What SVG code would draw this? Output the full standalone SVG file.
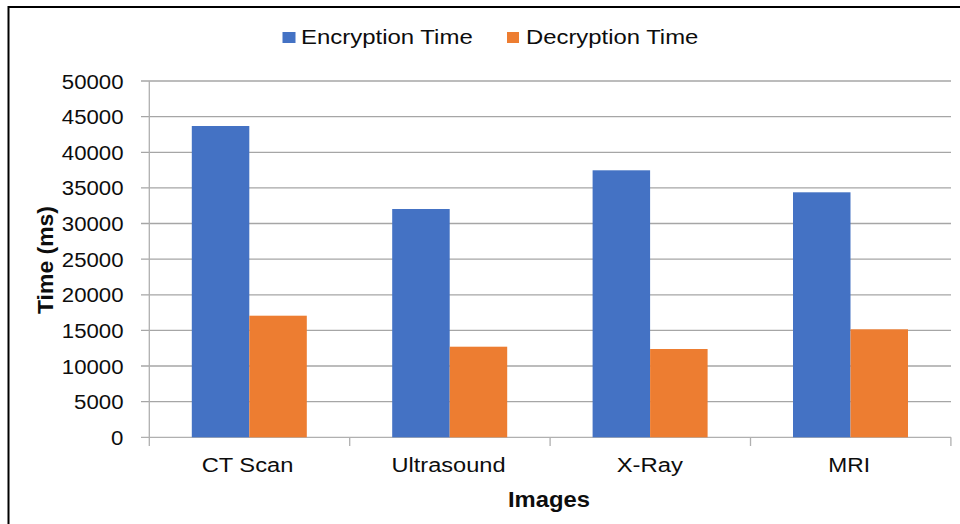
<svg xmlns="http://www.w3.org/2000/svg" width="960" height="524" viewBox="0 0 960 524">
<style>
text{font-family:"Liberation Sans",Arial,sans-serif;fill:#0d0d0d}
.tick{font-size:19.5px;text-anchor:end}
.cat{font-size:20px;text-anchor:middle}
.leg{font-size:20px}
.title{font-size:22px;font-weight:bold;text-anchor:middle}
.grid{stroke:#a6a6a6;stroke-width:1.3;fill:none}
.axis{stroke:#b0b0b0;stroke-width:1.3;fill:none}
.enc{fill:#4472C4}
.dec{fill:#ED7D31}
</style>
<rect x="0" y="0" width="960" height="524" fill="#fff"/>
<rect x="8.5" y="7" width="960" height="530" fill="none" stroke="#000" stroke-width="2"/>
<g id="gridlines">
<path class="grid" d="M141 81H951M141 116.6H951M141 152.3H951M141 187.9H951M141 223.5H951M141 259.2H951M141 294.8H951M141 330.4H951M141 366H951M141 401.7H951"/>
</g>
<g id="axes">
<path class="axis" d="M149.3 81V437.3M141 437.3H951M149.3 437.3V446M349.7 437.3V446M550.1 437.3V446M750.5 437.3V446M950.9 437.3V446"/>
</g>
<g id="y-ticks">
<text class="tick" x="123.5" y="88.5" textLength="61.7" lengthAdjust="spacingAndGlyphs">50000</text>
<text class="tick" x="123.5" y="124.1" textLength="61.7" lengthAdjust="spacingAndGlyphs">45000</text>
<text class="tick" x="123.5" y="159.8" textLength="61.7" lengthAdjust="spacingAndGlyphs">40000</text>
<text class="tick" x="123.5" y="195.4" textLength="61.7" lengthAdjust="spacingAndGlyphs">35000</text>
<text class="tick" x="123.5" y="231" textLength="61.7" lengthAdjust="spacingAndGlyphs">30000</text>
<text class="tick" x="123.5" y="266.7" textLength="61.7" lengthAdjust="spacingAndGlyphs">25000</text>
<text class="tick" x="123.5" y="302.3" textLength="61.7" lengthAdjust="spacingAndGlyphs">20000</text>
<text class="tick" x="123.5" y="337.9" textLength="61.7" lengthAdjust="spacingAndGlyphs">15000</text>
<text class="tick" x="123.5" y="373.5" textLength="61.7" lengthAdjust="spacingAndGlyphs">10000</text>
<text class="tick" x="123.5" y="409.2" textLength="49.4" lengthAdjust="spacingAndGlyphs">5000</text>
<text class="tick" x="123.5" y="444.8" textLength="12.4" lengthAdjust="spacingAndGlyphs">0</text>
</g>
<g id="bars">
<g id="ct-scan">
<rect class="enc" x="191.8" y="126" width="57.5" height="311.3"/>
<rect class="dec" x="249.3" y="315.7" width="57.5" height="121.6"/>
</g>
<g id="ultrasound">
<rect class="enc" x="392.2" y="209" width="57.5" height="228.3"/>
<rect class="dec" x="449.7" y="346.7" width="57.5" height="90.6"/>
</g>
<g id="x-ray">
<rect class="enc" x="592.6" y="170.3" width="57.5" height="267"/>
<rect class="dec" x="650.1" y="349" width="57.5" height="88.3"/>
</g>
<g id="mri">
<rect class="enc" x="793" y="192.3" width="57.5" height="245"/>
<rect class="dec" x="850.5" y="329.3" width="57.5" height="108"/>
</g>
</g>
<g id="x-labels">
<text class="cat" x="247.5" y="472.3" textLength="91.7" lengthAdjust="spacingAndGlyphs">CT Scan</text>
<text class="cat" x="448.5" y="472.3" textLength="114" lengthAdjust="spacingAndGlyphs">Ultrasound</text>
<text class="cat" x="649.8" y="472.3" textLength="66.3" lengthAdjust="spacingAndGlyphs">X-Ray</text>
<text class="cat" x="849.2" y="472.3" textLength="41.7" lengthAdjust="spacingAndGlyphs">MRI</text>
</g>
<g id="axis-titles">
<text class="title" x="549" y="506.5" textLength="82" lengthAdjust="spacingAndGlyphs">Images</text>
<text class="title" transform="translate(52.5 260) rotate(-90)" x="0" y="0" textLength="108" lengthAdjust="spacingAndGlyphs">Time (ms)</text>
</g>
<g id="legend">
<rect class="enc" x="282.5" y="32" width="13" height="11"/>
<text class="leg" x="301" y="44.3" textLength="171.7" lengthAdjust="spacingAndGlyphs">Encryption Time</text>
<rect class="dec" x="507" y="32" width="12" height="11"/>
<text class="leg" x="526" y="44.3" textLength="172.3" lengthAdjust="spacingAndGlyphs">Decryption Time</text>
</g>
</svg>
